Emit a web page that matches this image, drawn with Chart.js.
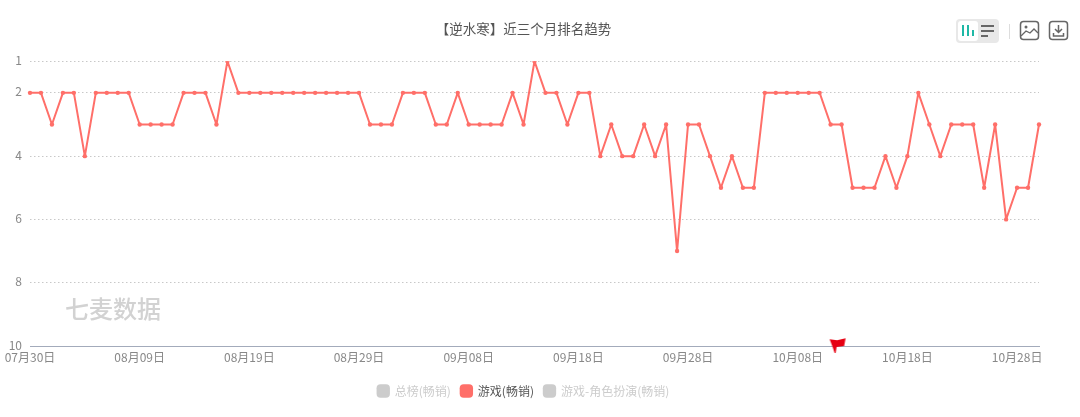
<!DOCTYPE html>
<html lang="zh-CN">
<head>
<meta charset="UTF-8">
<title>【逆水寒】近三个月排名趋势</title>
<script src="https://cdn.jsdelivr.net/npm/chart.js@4.4.0/dist/chart.umd.min.js"></script>
<style>
html,body{margin:0;padding:0;background:#fff;overflow:hidden}
body{width:1080px;height:417px;position:relative;font-family:"Noto Sans CJK SC",sans-serif}
#chartBox{position:absolute;left:0;top:0;width:1062px;height:417px}
#mark{position:absolute;left:65px;top:292px;font-size:24px;line-height:32px;font-weight:500;color:#d2d2d2}
#tools{position:absolute;left:0;top:0}
</style>
</head>
<body>
<div id="chartBox"><canvas id="rankChart"></canvas></div>
<div id="mark">七麦数据</div>
<svg id="tools" width="1080" height="60" fill="none">
  <rect x="956" y="19" width="43" height="24" rx="4" fill="#e8e8e8"/>
  <rect x="958" y="21" width="20" height="20" rx="3" fill="#fff"/>
  <path d="M963 25v11M968 25v11" stroke="#1fb8a6" stroke-width="2"/>
  <path d="M973 30v6" stroke="#1fb8a6" stroke-width="2"/>
  <path d="M981 26h13M981 31h13M981 36h7" stroke="#666" stroke-width="2"/>
  <path d="M1009.500 24v15" stroke="#ddd"/>
  <rect x="1020.500" y="21.500" width="18" height="18" rx="3" stroke="#666" stroke-width="1.500"/>
  <circle cx="1026" cy="27" r="1.500" fill="#666"/>
  <path d="M1021 36l5-5 4 2 4-4 4 4" stroke="#666" stroke-width="1.300"/>
  <rect x="1049.500" y="21.500" width="18" height="18" rx="3" stroke="#666" stroke-width="1.500"/>
  <path d="M1058.500 25v7M1055 29l3.500 3.500 3.500-3.500M1053.500 33v3h10v-3" stroke="#666" stroke-width="1.500"/>
</svg>

<script>
const chartTitle = '【逆水寒】近三个月排名趋势';
const dates = [
  '07月30日','07月31日','08月01日','08月02日','08月03日','08月04日','08月05日','08月06日','08月07日','08月08日',
  '08月09日','08月10日','08月11日','08月12日','08月13日','08月14日','08月15日','08月16日','08月17日','08月18日',
  '08月19日','08月20日','08月21日','08月22日','08月23日','08月24日','08月25日','08月26日','08月27日','08月28日',
  '08月29日','08月30日','08月31日','09月01日','09月02日','09月03日','09月04日','09月05日','09月06日','09月07日',
  '09月08日','09月09日','09月10日','09月11日','09月12日','09月13日','09月14日','09月15日','09月16日','09月17日',
  '09月18日','09月19日','09月20日','09月21日','09月22日','09月23日','09月24日','09月25日','09月26日','09月27日',
  '09月28日','09月29日','09月30日','10月01日','10月02日','10月03日','10月04日','10月05日','10月06日','10月07日',
  '10月08日','10月09日','10月10日','10月11日','10月12日','10月13日','10月14日','10月15日','10月16日','10月17日',
  '10月18日','10月19日','10月20日','10月21日','10月22日','10月23日','10月24日','10月25日','10月26日','10月27日',
  '10月28日','10月29日','10月30日'
];
const xTickLabels = ['07月30日','08月09日','08月19日','08月29日','09月08日','09月18日','09月28日','10月08日','10月18日','10月28日'];
const gameRank = [
  2,2,3,2,2,4,2,2,2,2,
  3,3,3,3,2,2,2,3,1,2,
  2,2,2,2,2,2,2,2,2,2,
  2,3,3,3,2,2,2,3,3,2,
  3,3,3,3,2,3,1,2,2,3,
  2,2,4,3,4,4,3,4,3,7,
  3,3,4,5,4,5,5,2,2,2,
  2,2,2,3,3,5,5,5,4,5,
  4,2,3,4,3,3,3,5,3,6,
  5,5,3
];
const yTicks = [1,2,4,6,8,10];
const seriesNames = ['总榜(畅销)','游戏(畅销)','游戏-角色扮演(畅销)'];
const flagDate = '10月12日';
const flagRank = 10;

const RED = '#ff6f69', GREY = '#cccccc';
const FONT = '"Noto Sans CJK SC",sans-serif';

/* 小红旗，画在一个小 canvas 上当 pointStyle 用 */
function makeFlag(){
  const c = document.createElement('canvas');
  c.width = 30; c.height = 20;
  const g = c.getContext('2d');
  g.fillStyle = '#e60012';
  g.beginPath();
  g.moveTo(3,3.300); g.lineTo(10.500,4.300); g.lineTo(19,2.300); g.lineTo(17.500,10);
  g.lineTo(10,11); g.lineTo(9,17); g.lineTo(8,17); g.lineTo(6,11);
  g.closePath();
  g.fill();
  return c;
}

new Chart(document.getElementById('rankChart'),{
  type:'line',
  data:{
    labels:dates,
    datasets:[
      {label:seriesNames[0],data:[],hidden:true},
      {label:seriesNames[1],data:gameRank,borderColor:RED,backgroundColor:RED,
       borderWidth:2,borderJoinStyle:'round',pointRadius:2.200,pointBorderWidth:0,pointBackgroundColor:RED,tension:0},
      {label:seriesNames[2],data:[],hidden:true},
      {label:'flag',data:[{x:flagDate,y:flagRank}],showLine:false,pointStyle:makeFlag(),clip:false}
    ]
  },
  options:{
    responsive:true,
    maintainAspectRatio:false,
    animation:false,
    layout:{padding:{left:8,right:23,top:21,bottom:10}},
    scales:{
      x:{
        type:'category',
        offset:false,
        afterFit(s){s.height=29;s.paddingLeft=0;s.paddingRight=0;},
        grid:{display:false,drawTicks:false},
        border:{display:true,color:'#a3abbb',width:1},
        ticks:{
          autoSkip:false,maxRotation:0,minRotation:0,padding:4,
          color:'#888',font:{family:FONT,size:12},
          callback(v){const s=this.getLabelForValue(v);return xTickLabels.includes(s)?s:null;}
        }
      },
      y:{
        reverse:true,min:1,max:10,
        afterBuildTicks(s){s.ticks=yTicks.map(v=>({value:v}));},
        afterFit(s){s.width=22;},
        grid:{
          drawTicks:false,
          color:c=>c.tick && c.tick.value===10?'transparent':'#c8c8c8',
          lineWidth:1
        },
        border:{display:false,dash:[1.500,2.500]},
        ticks:{padding:8,labelOffset:-1,color:'#888',font:{family:FONT,size:12}}
      }
    },
    plugins:{
      tooltip:{enabled:false},
      title:{
        display:true,text:chartTitle,color:'#555',
        font:{family:FONT,size:13.500,weight:'normal'},
        padding:{top:0,bottom:24}
      },
      legend:{
        position:'bottom',
        onClick(){},
        labels:{
          usePointStyle:true,pointStyle:'rectRounded',boxWidth:11,boxHeight:11,padding:10,
          font:{family:FONT,size:12},
          generateLabels(chart){
            return seriesNames.map((n,i)=>({
              text:n,
              datasetIndex:i,
              fillStyle:i===1?RED:GREY,
              strokeStyle:i===1?RED:GREY,
              lineWidth:0,
              fontColor:i===1?'#555':GREY,
              pointStyle:'rectRounded',
              hidden:false
            }));
          }
        }
      }
    }
  }
});
</script>
</body>
</html>
